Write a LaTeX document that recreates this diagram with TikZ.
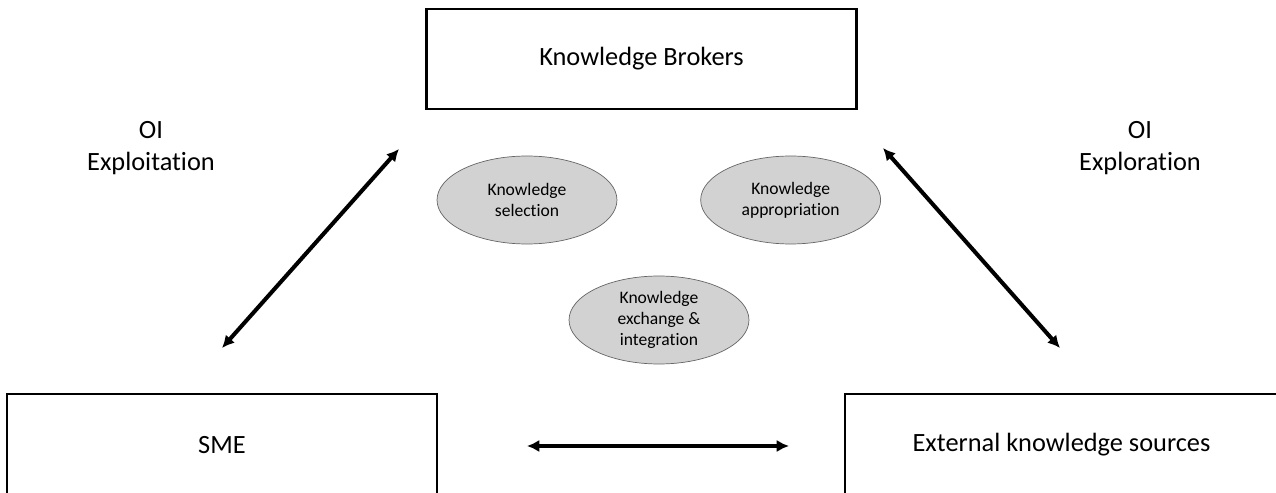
\documentclass[tikz,border=0pt]{standalone}
\usepackage{fontspec}
\setmainfont{Carlito}[Ligatures=NoCommon]
\usetikzlibrary{arrows.meta,positioning,shapes.geometric}
\tikzset{>={Latex[length=7pt,width=7pt]}}

\begin{document}
\begin{tikzpicture}[x=0.02cm,y=-0.02cm]
	\tikzset{block/.style={draw, line width=1.2pt, shape=rectangle, align=center, inner sep=0pt,
			minimum width=8.6cm, minimum height=2cm, font=\fontsize{15}{18}\selectfont},
		eblock/.style={draw=black!60, fill=gray!35, ellipse, align=center, inner sep=0pt,
			minimum width=3.6cm, minimum height=1.76cm, font=\fontsize{10}{12}\selectfont},
		label/.style={align=center, font=\fontsize{15}{18}\selectfont},
		link/.style={<->, line width=2.3pt},
	}
	\useasboundingbox (0,0) rectangle (1276,493);
	
	% actors
	\node [block] (kb) at (641.5,59) {Knowledge Brokers};
	\node [block, minimum height=2.04cm] (sme) at (222,445) {SME};
	\node [block, minimum height=2.04cm, minimum width=8.66cm] (eks) at (1061.5,445) {External knowledge sources};
	
	% activities
	\node [eblock] (sel) at (527,200) {Knowledge\\selection};
	\node [eblock, right = 1.66cm of sel] (app) {Knowledge\\appropriation};
	\node [eblock] (exc) at (659,320) {Knowledge\\exchange \&\\integration};
	
	\node [label] (oit) at (151,148) {OI\\Exploitation};
	\node [label] (oir) at (1140,148) {OI\\Exploration};
	
	% arrow ends
	\coordinate (sme-a) at (222,348);
	\coordinate (kb-a) at (399,149);
	\coordinate (kb-b) at (883,148);
	\coordinate (eks-a) at (1060,348);
	\coordinate (sme-b) at (527,446);
	\coordinate (eks-b) at (789,446);
	
	\draw [link] (sme-a) -- (kb-a);
	\draw [link] (kb-b) -- (eks-a);
	\draw [link] (sme-b) -- (eks-b);
\end{tikzpicture}
\end{document}
